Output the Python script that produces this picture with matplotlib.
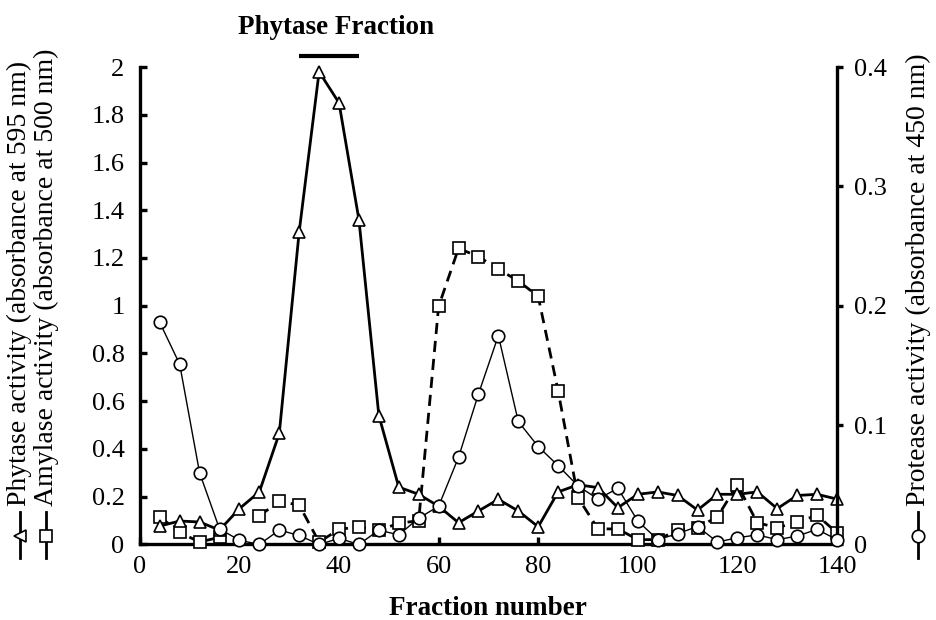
import numpy as np
import matplotlib
matplotlib.use('Agg')
import matplotlib.pyplot as plt
from matplotlib.lines import Line2D

plt.rcParams['font.family'] = ['Liberation Serif', 'DejaVu Serif']

fractions = [4, 8, 12, 16, 20, 24, 28, 32, 36, 40, 44, 48, 52, 56, 60, 64, 68, 72,
             76, 80, 84, 88, 92, 96, 100, 104, 108, 112, 116, 120, 124, 128, 132, 136, 140]
# left axis
phytase = [0.077, 0.098, 0.094, 0.06, 0.15, 0.22, 0.465, 1.31, 1.98, 1.85, 1.36, 0.54,
           0.24, 0.21, 0.16, 0.091, 0.14, 0.189, 0.14, 0.074, 0.22, 0.25, 0.238, 0.154,
           0.21, 0.22, 0.205, 0.144, 0.21, 0.21, 0.22, 0.15, 0.205, 0.21, 0.19]
amylase = [0.116, 0.05, 0.01, 0.03, np.nan, 0.12, 0.18, 0.165, 0.01, 0.063, 0.074, 0.06,
           0.088, 0.1, 0.997, 1.24, 1.206, 1.153, 1.104, 1.039, 0.643, 0.196, 0.065, 0.065,
           0.02, 0.02, 0.06, 0.07, 0.116, 0.25, 0.091, 0.07, 0.094, 0.122, 0.049]
# right axis
protease = [0.186, 0.151, 0.06, 0.013, 0.0035, 0.0, 0.012, 0.0075, 0.0, 0.005, 0.0, 0.012,
            0.008, 0.022, 0.032, 0.073, 0.126, 0.175, 0.103, 0.082, 0.066, 0.049, 0.038, 0.047,
            0.0196, 0.004, 0.009, 0.015, 0.002, 0.0056, 0.008, 0.004, 0.007, 0.0126, 0.004]

xticks = [0, 20, 40, 60, 80, 100, 120, 140]
yticks = [0, 0.2, 0.4, 0.6, 0.8, 1, 1.2, 1.4, 1.6, 1.8, 2]
ylabels = ['0', '0.2', '0.4', '0.6', '0.8', '1', '1.2', '1.4', '1.6', '1.8', '2']
y2ticks = [0, 0.1, 0.2, 0.3, 0.4]
y2labels = ['0', '0.1', '0.2', '0.3', '0.4']

fs = 19
fig = plt.figure(figsize=(9.36, 6.2), dpi=100)
ax = fig.add_axes([0.1494, 0.1219, 0.7448, 0.7700])
ax2 = ax.twinx()

ax.plot(fractions, amylase, color='k', lw=2.0, dashes=(4, 2.5), marker='s', ms=8,
        mfc='white', mec='k', mew=1.2, clip_on=False, zorder=3)
ax.plot(fractions, phytase, color='k', lw=2.0, marker='^', ms=9,
        mfc='white', mec='k', mew=1.2, clip_on=False, zorder=4)
ax2.plot(fractions, protease, color='k', lw=1.0, marker='o', ms=9,
         mfc='white', mec='k', mew=1.2, clip_on=False, zorder=5)

ax.set_xlim(0, 140)
ax.set_ylim(0, 2)
ax2.set_ylim(0, 0.4)
ax.set_xticks(xticks)
ax.set_yticks(yticks)
ax.set_yticklabels(ylabels)
ax2.set_yticks(y2ticks)
ax2.set_yticklabels(y2labels)

for a in (ax, ax2):
    a.spines['top'].set_visible(False)
    for s in ('left', 'bottom', 'right'):
        a.spines[s].set_linewidth(2.4)
ax.spines['right'].set_visible(False)
ax2.spines['left'].set_visible(False)
ax2.spines['bottom'].set_visible(False)

ax.tick_params(axis='both', direction='in', length=5, width=2.4, labelsize=fs)
ax.tick_params(axis='y', pad=11)
ax.tick_params(axis='x', pad=8)
ax2.tick_params(axis='y', direction='out', length=4, width=2.4, labelsize=fs, pad=8)

ax.set_xlabel('Fraction number', fontsize=19.5, fontweight='bold', labelpad=13)

# phytase fraction bar
ax.plot([32, 44], [2.046, 2.046], color='k', lw=3, clip_on=False, solid_capstyle='butt')
ax.text(39.3, 2.165, 'Phytase Fraction', fontsize=19.5, fontweight='bold',
        ha='center', va='center', clip_on=False)

# axis labels with series keys
def key(xpix, marker):
    x = xpix / 936
    fig.add_artist(Line2D([x, x], [1 - 558 / 620, 1 - 512 / 620], color='k', lw=2.0,
                          transform=fig.transFigure))
    fig.add_artist(Line2D([x], [1 - 536 / 620], marker=marker, ms=9, mfc='white', mec='k',
                          mew=1.2, transform=fig.transFigure))

lab_fs = 20
fig.text(19 / 936, 1 - 506 / 620, 'Phytase activity (absorbance at 595 nm)', rotation=90,
         fontsize=lab_fs, ha='center', va='bottom')
fig.text(46 / 936, 1 - 506 / 620, 'Amylase activity (absorbance at 500 nm)', rotation=90,
         fontsize=lab_fs, ha='center', va='bottom')
fig.text(918 / 936, 1 - 506 / 620, 'Protease activity (absorbance at 450 nm)', rotation=90,
         fontsize=lab_fs, ha='center', va='bottom')
key(20, '<')
key(46, 's')
key(918, 'o')

plt.savefig('out.png', dpi=100)
